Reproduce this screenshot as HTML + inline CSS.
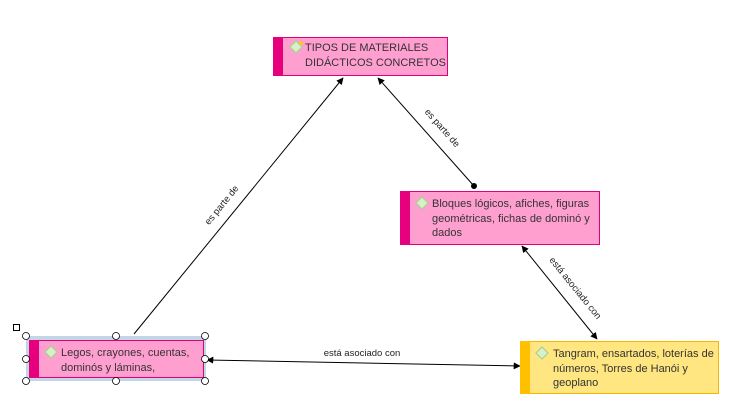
<!DOCTYPE html>
<html><head><meta charset="utf-8"><style>
html,body{margin:0;padding:0;background:#fff;}
svg{display:block;font-family:"Liberation Sans",sans-serif;}
.bt{font-family:"Liberation Sans",sans-serif;font-size:11px;fill:#333;}
.lb{font-size:9.5px;fill:#222;}
</style></head><body>
<svg width="735" height="417" viewBox="0 0 735 417" xmlns="http://www.w3.org/2000/svg">
<defs>
<marker id="ar" viewBox="0 0 10 10" refX="9" refY="5" markerWidth="7" markerHeight="7" orient="auto-start-reverse" markerUnits="userSpaceOnUse"><path d="M0,0 L10,5 L0,10 z" fill="#000"/></marker>
<g id="dia"><path d="M0,-6 L6,0 L0,6 L-6,0 z" fill="#d8f0c8" stroke="#a8d090" stroke-width="1.2"/></g>
</defs>
<!-- connectors -->
<line x1="134" y1="334" x2="343" y2="78" stroke="#000" stroke-width="1" marker-end="url(#ar)"/>
<line x1="474" y1="186" x2="378" y2="78" stroke="#000" stroke-width="1" marker-end="url(#ar)"/>
<circle cx="474" cy="186" r="3" fill="#000"/>
<line x1="522" y1="246" x2="597" y2="339" stroke="#000" stroke-width="1" marker-start="url(#ar)" marker-end="url(#ar)"/>
<line x1="207" y1="360" x2="520" y2="366" stroke="#000" stroke-width="1" marker-start="url(#ar)" marker-end="url(#ar)"/>
<!-- labels -->
<text class="lb" transform="translate(224,207) rotate(-50.8)" text-anchor="middle">es parte de</text>
<text class="lb" transform="translate(440,130) rotate(48.4)" text-anchor="middle">es parte de</text>
<text class="lb" transform="translate(573,290) rotate(51)" text-anchor="middle">está asociado con</text>
<text class="lb" x="362" y="356" text-anchor="middle">está asociado con</text>
<!-- top box -->
<rect x="273.5" y="37.5" width="174" height="38" fill="#ff9fd0" stroke="#e0007a"/>
<rect x="273" y="37" width="10" height="39" fill="#e6007e"/>
<use href="#dia" x="296" y="47"/>
<circle cx="301" cy="43" r="1.8" fill="#ffd000"/>
<text class="bt" x="305" y="51">TIPOS DE MATERIALES</text>
<text class="bt" x="305" y="66">DIDÁCTICOS CONCRETOS</text>
<!-- bloques -->
<rect x="400.5" y="191.5" width="199" height="53" fill="#ff9fd0" stroke="#e0007a"/>
<rect x="400" y="191" width="10" height="54" fill="#e6007e"/>
<use href="#dia" x="422" y="203"/>
<text class="bt" x="432" y="207">Bloques lógicos, afiches, figuras</text>
<text class="bt" x="432" y="222">geométricas, fichas de dominó y</text>
<text class="bt" x="432" y="236">dados</text>
<!-- tangram -->
<rect x="520.5" y="341.5" width="198" height="52" fill="#ffe680" stroke="#f5b800"/>
<rect x="520" y="341" width="10" height="53" fill="#ffc000"/>
<use href="#dia" x="542" y="353"/>
<text class="bt" x="553" y="357">Tangram, ensartados, loterías de</text>
<text class="bt" x="553" y="372">números, Torres de Hanói y</text>
<text class="bt" x="553" y="386">geoplano</text>
<!-- legos with selection -->
<rect x="26" y="336" width="180" height="45" fill="#c4d6e6"/>
<rect x="29.5" y="340.5" width="174" height="37" fill="#ff9fd0" stroke="#e0007a"/>
<rect x="29" y="340" width="10" height="38" fill="#e6007e"/>
<use href="#dia" x="51" y="352"/>
<text class="bt" x="61" y="356">Legos, crayones, cuentas,</text>
<text class="bt" x="61" y="371">dominós y láminas,</text>
<rect x="13.5" y="324.5" width="6" height="6" fill="#fff" stroke="#000"/>
<g fill="#fff" stroke="#000" stroke-width="0.8">
<circle cx="26" cy="336" r="3.5"/><circle cx="116" cy="336" r="3.5"/><circle cx="205" cy="336" r="3.5"/>
<circle cx="26" cy="359" r="3.5"/><circle cx="205" cy="359" r="3.5"/>
<circle cx="26" cy="381" r="3.5"/><circle cx="116" cy="381" r="3.5"/><circle cx="205" cy="381" r="3.5"/>
</g>
</svg>
</body></html>
